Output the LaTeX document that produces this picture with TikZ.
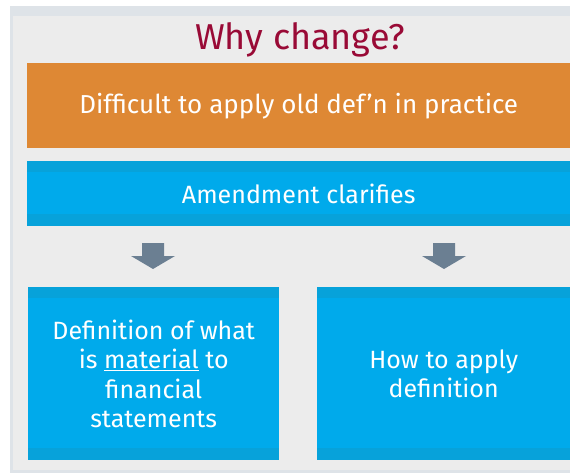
\documentclass[tikz,border=0pt]{standalone}
\usepackage{fontspec}
\setmainfont{Fira Sans}
\definecolor{framec}{HTML}{DEE3E8}
\definecolor{panelc}{HTML}{ECECEC}
\definecolor{titlec}{HTML}{990A36}
\definecolor{orangec}{HTML}{DE8834}
\definecolor{bluec}{HTML}{00AAEB}
\definecolor{stripec}{HTML}{07A2DA}
\definecolor{arrowc}{HTML}{6B7F92}
\begin{document}
\begin{tikzpicture}[x=1pt,y=-1pt,
  titletext/.style={text=titlec,font=\fontsize{36}{40}\selectfont,inner sep=0},
  obox/.style={fill=orangec,text=white,anchor=north west,inner sep=0,
    font=\fontsize{26}{30}\selectfont},
  bbox/.style={fill=bluec,text=white,anchor=north west,inner sep=0,align=center,
    font=\fontsize{25}{29.5}\selectfont,
    path picture={
      \fill[stripec] (path picture bounding box.north west) rectangle ([yshift=-11pt]path picture bounding box.north east);
      \fill[stripec] (path picture bounding box.south west) rectangle ([yshift=12pt]path picture bounding box.south east);
    }},
  blockarrow/.style={fill=arrowc}]
\useasboundingbox (0,0) rectangle (570,473);
\fill[white] (0,0) rectangle (570,473);
\fill[framec] (10,6) rectangle (570,473);
\fill[panelc] (13,16) rectangle (570,470);
\node[titletext] (title) at (300,40) {Why change?};
\node[obox,minimum width=543pt,minimum height=85pt] (prob) at (27,63) {Difficult to apply old def’n in practice};
\node[bbox,minimum width=543pt,minimum height=65pt] (amend) at (27,161) {Amendment clarifies};
\node[bbox,minimum width=251pt,minimum height=173pt] (defn) at (28,287) {Definition of what\\is \underline{material} to\\financial\\statements};
\node[bbox,minimum width=253pt,minimum height=173pt] (how) at (317,287) {How to apply\\definition};
\coordinate (a1) at (153,243);
\coordinate (a2) at (444,243);
\foreach \a in {a1,a2}{
  \fill[blockarrow] (\a) ++(-11,0) -- ++(22,0) -- ++(0,13) -- ++(11,0) -- ++(-22,13) -- ++(-22,-13) -- ++(11,0) -- cycle;
}
\end{tikzpicture}
\end{document}
